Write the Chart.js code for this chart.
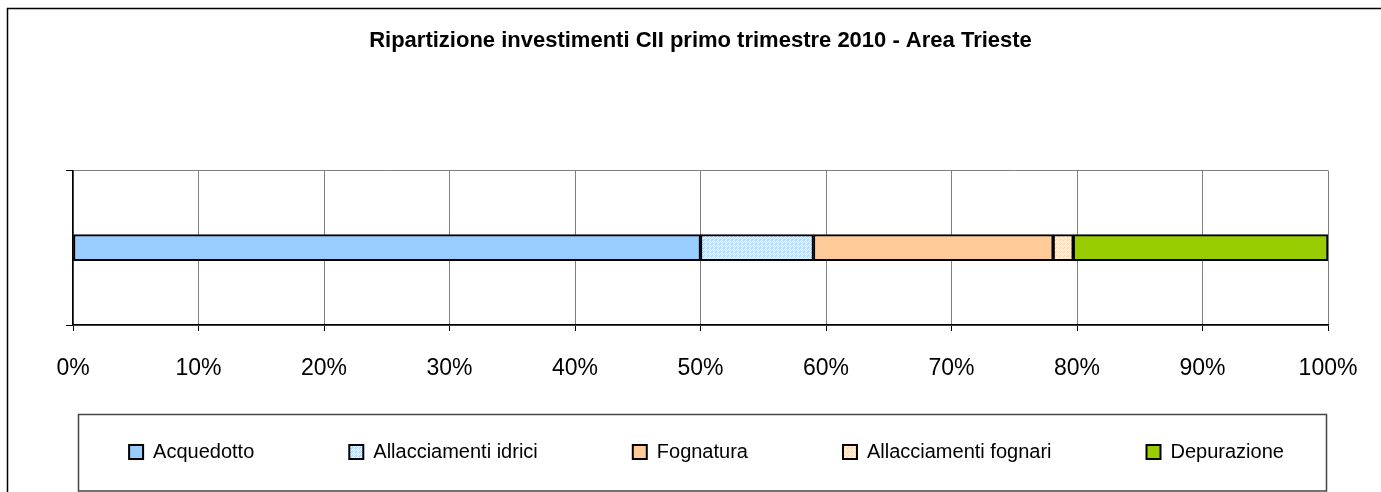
<!DOCTYPE html>
<html>
<head>
<meta charset="utf-8">
<script src="https://cdn.jsdelivr.net/npm/chart.js@4/dist/chart.umd.min.js"></script>
<style>
	html, body { margin: 0; padding: 0; background: #fff; }
	#contenitore { width: 1381px; height: 492px; }
</style>
</head>
<body>
<div id="contenitore"><canvas id="grafica-investimenti"></canvas></div>
<script>
const categorie = ['Area Trieste'];
const voci = ['Acquedotto', 'Allacciamenti idrici', 'Fognatura', 'Allacciamenti fognari', 'Depurazione'];
const percentuali = [50.0, 9.0, 19.1, 1.6, 20.3];
const tickAsseX = [0, 10, 20, 30, 40, 50, 60, 70, 80, 90, 100];
const titolo = 'Ripartizione investimenti CII primo trimestre 2010 - Area Trieste';

const FONT = "'Liberation Sans', Arial, sans-serif";

// piccolo motivo a quadretti per le voci "allacciamenti"
function motivo(fondo, segno) {
	const c = document.createElement('canvas');
	c.width = 4;
	c.height = 4;
	const g = c.getContext('2d');
	g.fillStyle = fondo;
	g.fillRect(0, 0, 4, 4);
	g.fillStyle = segno;
	g.fillRect(1, 0, 1, 1);
	g.fillRect(0, 1, 1, 1);
	g.fillRect(2, 1, 1, 1);
	g.fillRect(1, 2, 1, 1);
	g.fillRect(3, 2, 1, 1);
	g.fillRect(2, 3, 1, 1);
	return c.getContext('2d').createPattern(c, 'repeat');
}

const colori = [
	'#99ccff',
	motivo('#b8dafd', '#ffffff'),
	'#ffcc99',
	motivo('#ffdcbc', '#ffffff'),
	'#99cc00',
];

// cornice esterna e riquadro della legenda
const cornici = {
	id: 'cornici',
	afterDraw(chart) {
		const ctx = chart.ctx;
		ctx.save();
		ctx.strokeStyle = '#000';
		ctx.lineWidth = 1.5;
		ctx.beginPath();
		ctx.moveTo(7.5, 500);
		ctx.lineTo(7.5, 8.5);
		ctx.lineTo(1400, 8.5);
		ctx.stroke();
		ctx.strokeStyle = '#444';
		ctx.strokeRect(78.5, 414.5, 1248, 76.5);
		ctx.restore();
	},
};

const datasets = voci.map((voce, i) => ({
	label: voce,
	data: [percentuali[i]],
	backgroundColor: colori[i],
	borderColor: '#000',
	borderWidth: 2,
	borderSkipped: false,
	barThickness: 26,
}));

const ctx = document.querySelector('#grafica-investimenti');
const chart = new Chart(ctx, {
	type: 'bar',
	data: {
		labels: categorie,
		datasets: datasets,
	},
	options: {
		indexAxis: 'y',
		responsive: true,
		maintainAspectRatio: false,
		animation: false,
		layout: {
			padding: { left: 32, right: 0, top: 0, bottom: 20 },
		},
		scales: {
			x: {
				stacked: true,
				min: 0,
				max: 100,
				afterBuildTicks: (scale) => {
					scale.ticks = tickAsseX.map((v) => ({ value: v }));
				},
				afterFit: (scale) => {
					scale.height = 22;
				},
				ticks: {
					callback: (v) => v + '%',
					color: '#000',
					mirror: true,
					padding: -57,
					maxRotation: 0,
					font: { family: FONT, size: 23 },
				},
				grid: {
					color: '#808080',
					tickColor: '#000',
					tickLength: 6,
					lineWidth: 1,
				},
				border: { color: '#000', width: 1.5 },
			},
			y: {
				stacked: true,
				ticks: { display: false },
				afterFit: (scale) => {
					scale.width = 41;
				},
				grid: {
					color: '#808080',
					tickColor: '#000',
					tickLength: 7,
					offset: true,
				},
				border: { color: '#000', width: 1.5 },
			},
			// margine destro, solo spazio vuoto
			destra: {
				type: 'linear',
				position: 'right',
				grid: { display: false },
				ticks: { display: false },
				border: { display: false },
				afterFit: (scale) => {
					scale.width = 53;
				},
			},
		},
		plugins: {
			tooltip: { enabled: false },
			title: {
				display: true,
				text: titolo,
				fullSize: false,
				color: '#000',
				font: { family: FONT, size: 22, weight: 'bold' },
				padding: { top: 28, bottom: 116 },
			},
			legend: {
				position: 'bottom',
				fullSize: true,
				labels: {
					color: '#000',
					boxWidth: 14,
					boxHeight: 14,
					padding: 95,
					font: { family: FONT, size: 20 },
				},
			},
		},
	},
	plugins: [cornici],
});
</script>
</body>
</html>
